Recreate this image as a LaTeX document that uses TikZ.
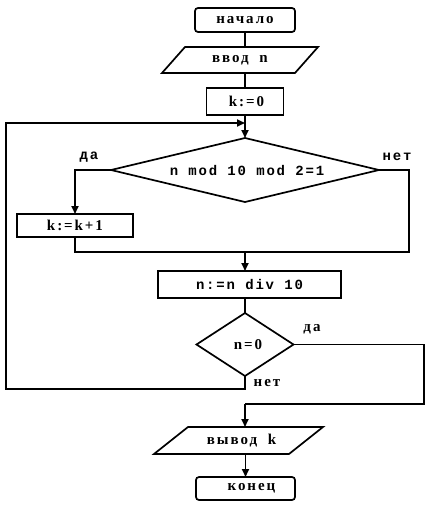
\documentclass[tikz,border=0pt]{standalone}
\usepackage{fontspec}
\setmainfont{Liberation Serif}[LetterSpace=13]
\newfontfamily\monofnt{Liberation Mono}[LetterSpace=13]
\usetikzlibrary{shapes.geometric,arrows.meta}
\begin{document}
\begin{tikzpicture}[x=1pt,y=-1pt,
  every node/.style={inner sep=0pt, outer sep=0pt},
  ln/.style={line width=1.7pt, line join=miter},
  arr/.style={ln, -{Triangle[length=8pt,width=7pt]}},
  sertxt/.style={font=\fontsize{15}{18}\selectfont\bfseries},
  montxt/.style={font=\monofnt\fontsize{14}{17}\selectfont\bfseries},
  term/.style={draw, ln, rectangle, rounded corners=3pt, sertxt},
  proc/.style={draw, ln, rectangle, sertxt},
  mproc/.style={draw, ln, rectangle, montxt},
  iotext/.style={rectangle, sertxt},
  dec/.style={draw, ln, diamond}
]
\fill[white] (0,0) rectangle (431,506);
\useasboundingbox (0,0) rectangle (431,506);

% nodes
\node[term, minimum width=100pt, minimum height=24pt] (start) at (245,20) {начало};
\node[iotext, minimum height=26pt] (in) at (240,60) {ввод\hspace{5pt} n};
\node[proc, minimum width=77pt, minimum height=27pt] (k0) at (245,101.5) {\hspace*{3pt}k:=0};
\node[dec, aspect=4.19, minimum width=268pt, minimum height=64pt, montxt] (d1) at (245,170) {\hspace*{4pt}n mod 10 mod 2=1};
\node[proc, minimum width=116pt, minimum height=23pt] (k1) at (75,225.5) {k:=k+1};
\node[mproc, minimum width=183pt, minimum height=27pt] (n10) at (249.5,284.5) {n:=n div 10};
\node[dec, aspect=1.54, minimum width=97pt, minimum height=63pt, sertxt] (d2) at (245,344.5) {\hspace*{6pt}n=0};
\node[iotext, minimum height=27pt] (out) at (238.5,440.5) {\hspace*{6pt}вывод\hspace{5pt} k};
\node[term, minimum width=99pt, minimum height=23pt] (end) at (245.5,488.5) {\hspace*{12pt}конец};

% parallelograms
\draw[ln] (185,47) -- (318,47) -- (295,73) -- (162,73) -- cycle;
\draw[ln] (188,427) -- (323,427) -- (289,454) -- (154,454) -- cycle;

% labels
\node[montxt] (l1) at (89,157) {да};
\node[montxt] (l2) at (397,157) {нет};
\node[sertxt] (l3) at (312,329) {да};
\node[sertxt] (l4) at (267,383) {нет};

% helper coordinates
\coordinate (m) at (245,123);
\coordinate (j) at (245,252);
\coordinate (jr) at (409,252);
\coordinate (nl1) at (245,389);
\coordinate (nl2) at (6,389);
\coordinate (nl3) at (6,123);
\coordinate (cr) at (424,404);
\coordinate (cl) at (245,404);

% connectors
\draw[ln] (start.south) -- (start.south |- in.north);
\draw[ln] (k0.north |- in.south) -- (k0.north);
\draw[arr] (k0.south) -- (d1.north);
\draw[arr] (d1.west) -| (k1.north);
\draw[ln] (d1.east) -| (jr) -- (k1.south |- jr) -- (k1.south);
\draw[arr] (j) -- (j |- n10.north);
\draw[ln] (d2.north |- n10.south) -- (d2.north);
\draw[arr] (d2.south) -- (nl1) -- (nl2) -- (nl3) -- (m);
\draw[ln] (d2.east) -| (cr) -- (cl);
\draw[arr] (cl) -- (cl |- out.north);
\draw[arr] (end.north |- out.south) -- (end.north);
\end{tikzpicture}
\end{document}
